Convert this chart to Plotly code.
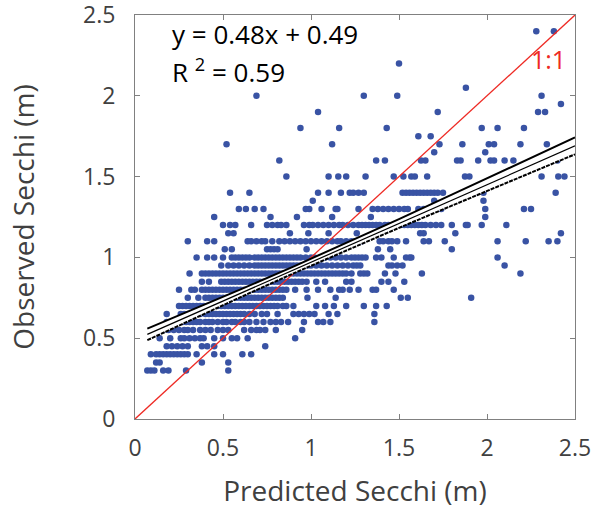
import plotly.graph_objects as go

# Observed Secchi levels (m) and the predicted Secchi values (m) read for each level
obs_levels = [0.30, 0.35, 0.40, 0.45, 0.50, 0.55, 0.60, 0.65, 0.70, 0.75, 0.80, 0.85,
              0.90, 0.95, 1.00, 1.05, 1.10, 1.15, 1.20, 1.25, 1.30, 1.35, 1.40, 1.50,
              1.60, 1.65, 1.70, 1.75, 1.80, 1.90, 1.95, 2.00, 2.05, 2.20, 2.40]

r030 = [0.07, 0.09, 0.11, 0.16, 0.19, 0.29, 0.53]
r035 = [0.12, 0.14, 0.38, 0.53]
r040 = [0.09, 0.12, 0.14, 0.16, 0.18, 0.20, 0.22, 0.24, 0.26, 0.28, 0.30, 0.35, 0.45, 0.50, 0.61, 0.66]
r045 = [0.18, 0.21, 0.24, 0.27, 0.30, 0.38, 0.41, 0.45, 0.74]
r050 = [0.14, 0.20, 0.26, 0.28, 0.31, 0.34, 0.37, 0.39, 0.45, 0.50, 0.55, 0.58, 0.64, 0.91]
r055 = [0.13, 0.16, 0.19, 0.22, 0.25, 0.28, 0.30, 0.33, 0.37, 0.40, 0.43, 0.47, 0.50, 0.53,
        0.62, 0.66, 0.69, 0.71, 0.74, 0.80, 0.95]
r060 = [0.18, 0.21, 0.23, 0.25, 0.27, 0.29, 0.31, 0.33, 0.35, 0.37, 0.40, 0.42, 0.44, 0.47,
        0.50, 0.52, 0.55, 0.57, 0.60, 0.62, 0.65, 0.69, 0.73, 0.77, 0.80, 0.83, 0.87, 0.96,
        1.04, 1.07, 1.11, 1.36]
r065 = [0.18, 0.26, 0.28, 0.30, 0.32, 0.34, 0.37, 0.40, 0.42, 0.44, 0.46, 0.48, 0.50, 0.52,
        0.54, 0.56, 0.58, 0.60, 0.62, 0.65, 0.68, 0.72, 0.75, 0.81, 0.90, 0.93, 0.96, 0.99,
        1.02, 1.10, 1.15, 1.36]
r070 = [0.25, 0.27, 0.29, 0.31, 0.33, 0.35, 0.37, 0.39, 0.41, 0.43, 0.45, 0.47, 0.49, 0.51,
        0.53, 0.55, 0.57, 0.59, 0.61, 0.63, 0.65, 0.67, 0.69, 0.71, 0.73, 0.75, 0.77, 0.79,
        0.81, 0.84, 0.86, 0.90, 1.03, 1.08, 1.13, 1.20, 1.30, 1.37, 1.43]
r075 = [0.30, 0.36, 0.40, 0.42, 0.44, 0.46, 0.48, 0.50, 0.52, 0.54, 0.56, 0.58, 0.60, 0.62,
        0.64, 0.66, 0.68, 0.70, 0.72, 0.74, 0.76, 0.78, 0.80, 0.82, 0.84, 0.98, 1.14, 1.51,
        1.55, 1.91]
r080 = [0.25, 0.32, 0.34, 0.38, 0.40, 0.42, 0.44, 0.46, 0.48, 0.50, 0.52, 0.54, 0.56, 0.58,
        0.60, 0.62, 0.64, 0.66, 0.68, 0.70, 0.72, 0.74, 0.76, 0.78, 0.80, 0.82, 0.84, 0.86,
        0.91, 0.975, 1.04, 1.11, 1.16, 1.18, 1.22, 1.27, 1.35, 1.37, 1.47]
r085 = [0.38, 0.42, 0.49, 0.51, 0.53, 0.55, 0.57, 0.59, 0.61, 0.63, 0.65, 0.67, 0.69, 0.71,
        0.73, 0.75, 0.77, 0.79, 0.81, 0.83, 0.85, 0.87, 0.89, 0.91, 0.93, 0.95, 0.975, 1.03,
        1.08, 1.20, 1.23, 1.40, 1.44, 1.53]
r090 = [0.31, 0.38, 0.40, 0.42, 0.44, 0.46, 0.48, 0.50, 0.52, 0.54, 0.56, 0.58, 0.60, 0.62,
        0.64, 0.66, 0.68, 0.70, 0.72, 0.74, 0.76, 0.78, 0.80, 0.82, 0.84, 0.86, 0.88, 0.90,
        0.92, 0.94, 0.96, 0.98, 1.00, 1.02, 1.04, 1.06, 1.08, 1.10, 1.12, 1.14, 1.16, 1.18,
        1.20, 1.23, 1.28, 1.30, 1.32, 1.42, 1.48, 1.63, 2.19]
r095 = [0.49, 0.53, 0.56, 0.59, 0.62, 0.65, 0.68, 0.70, 0.72, 0.74, 0.76, 0.78, 0.80, 0.82,
        0.84, 0.86, 0.88, 0.90, 0.92, 0.94, 0.96, 0.98, 1.00, 1.03, 1.06, 1.09, 1.12, 1.15,
        1.18, 1.21, 1.24, 1.26, 1.28, 1.44, 1.46, 1.49, 1.52, 2.10]
r100 = [0.35, 0.41, 0.45, 0.50, 0.55, 0.57, 0.59, 0.61, 0.63, 0.65, 0.68, 0.70, 0.72, 0.74,
        0.76, 0.78, 0.80, 0.82, 0.84, 0.86, 0.88, 0.90, 0.92, 0.94, 0.97, 1.00, 1.02, 1.05,
        1.08, 1.11, 1.14, 1.17, 1.20, 1.23, 1.25, 1.27, 1.29, 1.31, 1.37, 1.40, 1.47, 1.54,
        1.56, 1.57, 2.06]
r105 = [0.51, 0.55, 0.75, 0.77, 0.79, 0.81, 0.975, 1.38, 1.45, 1.80]
r110 = [0.30, 0.41, 0.45, 0.64, 0.66, 0.69, 0.72, 0.74, 0.78, 0.82, 0.85, 0.88, 0.91, 0.94,
        0.97, 1.00, 1.03, 1.06, 1.09, 1.12, 1.15, 1.17, 1.20, 1.23, 1.25, 1.27, 1.29, 1.39,
        1.41, 1.44, 1.46, 1.49, 1.54, 1.64, 1.67, 1.76, 2.06, 2.22, 2.35, 2.40]
r115 = [0.53, 0.56, 0.88, 0.985, 1.10, 1.26, 1.62, 1.64, 1.82, 2.42]
r120 = [0.50, 0.54, 0.57, 0.66, 0.75, 0.78, 0.81, 0.83, 0.86, 0.96, 0.99, 1.01, 1.04, 1.07,
        1.10, 1.13, 1.16, 1.18, 1.21, 1.24, 1.27, 1.29, 1.31, 1.33, 1.35, 1.37, 1.39, 1.42,
        1.44, 1.51, 1.53, 1.55, 1.57, 1.59, 1.61, 1.63, 1.65, 1.68, 1.71, 1.74, 1.80, 1.88,
        1.89, 1.97, 2.11]
r125 = [0.45, 0.77, 0.92, 1.12, 1.34, 1.99]
r130 = [0.59, 0.63, 0.68, 0.73, 0.97, 0.99, 1.06, 1.14, 1.15, 1.27, 1.35, 1.38, 1.41, 1.44,
        1.47, 1.50, 1.53, 1.55, 1.61, 1.64, 1.67, 1.70, 1.74, 1.99, 2.21, 2.25]
r135 = [1.01, 1.70, 1.98]
r140 = [0.54, 0.65, 1.04, 1.10, 1.17, 1.22, 1.24, 1.27, 1.30, 1.52, 1.54, 1.56, 1.58, 1.60,
        1.62, 1.64, 1.66, 1.68, 1.70, 1.72, 1.75, 1.89, 1.91, 1.93, 1.98, 2.39]
r150 = [0.86, 1.10, 1.155, 1.20, 1.31, 1.47, 1.525, 1.57, 1.59, 1.66, 1.875, 1.90, 2.31, 2.405, 2.44]
r160 = [0.82, 1.37, 1.42, 1.625, 1.65, 1.83, 1.85, 1.95, 2.02, 2.04, 2.10, 2.15, 2.40]
r165 = [1.70, 1.99]
r170 = [0.52, 1.12, 1.73, 1.86, 2.01, 2.04, 2.19, 2.34]
r175 = [1.61, 1.68]
r180 = [0.94, 1.16, 1.43, 1.97, 2.06, 2.21]
r190 = [1.04, 1.72, 2.29, 2.33]
r195 = [2.42]
r200 = [0.69, 1.30, 1.49, 2.31]
r205 = [1.88]
r220 = [1.50]
r240 = [2.28, 2.38]

pred_rows = [r030, r035, r040, r045, r050, r055, r060, r065, r070, r075, r080, r085,
             r090, r095, r100, r105, r110, r115, r120, r125, r130, r135, r140, r150,
             r160, r165, r170, r175, r180, r190, r195, r200, r205, r220, r240]

tick_vals = [0, 0.5, 1, 1.5, 2, 2.5]
tick_text = ["0", "0.5", "1", "1.5", "2", "2.5"]

# Regression fit (from the printed equation) and its confidence band half-widths (read)
fit_slope = 0.48
fit_intercept = 0.49
band_x = [0.07, 0.3, 0.6, 0.9, 1.2, 1.5, 1.8, 2.1, 2.5]
band_half = [0.036, 0.030, 0.024, 0.021, 0.022, 0.027, 0.034, 0.042, 0.052]

one_to_one = [0, 2.5]

predicted = []
observed = []
for lvl, row in zip(obs_levels, pred_rows):
    predicted.extend(row)
    observed.extend([lvl] * len(row))

fit_y = [fit_slope * x + fit_intercept for x in band_x]
upper = [f + h for f, h in zip(fit_y, band_half)]
lower = [f - h for f, h in zip(fit_y, band_half)]

fig = go.Figure()
fig.add_trace(go.Scatter(x=predicted, y=observed, mode="markers",
                         marker=dict(color="#3953a4", size=6.5, line=dict(width=0)),
                         showlegend=False, hoverinfo="x+y"))
fig.add_trace(go.Scatter(x=one_to_one, y=one_to_one, mode="lines",
                         line=dict(color="#ee2a24", width=1.3), showlegend=False))
# white confidence band
fig.add_trace(go.Scatter(x=band_x, y=upper, mode="lines", line=dict(color="white", width=0),
                         showlegend=False, hoverinfo="skip"))
fig.add_trace(go.Scatter(x=band_x, y=lower, mode="lines", line=dict(color="white", width=0),
                         fill="tonexty", fillcolor="white", showlegend=False, hoverinfo="skip"))
fig.add_trace(go.Scatter(x=band_x, y=upper, mode="lines", line=dict(color="black", width=2),
                         showlegend=False))
fig.add_trace(go.Scatter(x=band_x, y=fit_y, mode="lines", line=dict(color="black", width=1.2),
                         showlegend=False))
fig.add_trace(go.Scatter(x=band_x, y=lower, mode="lines",
                         line=dict(color="black", width=2, dash="4px,1px"), showlegend=False))

axis_common = dict(range=[0, 2.5], tickmode="array", tickvals=tick_vals, ticktext=tick_text,
                   ticks="inside", ticklen=5, automargin=False, ticklabeloverflow="allow",
                   tickcolor="#808080", showline=True, linecolor="#808080", linewidth=1,
                   mirror="ticks", showgrid=False, zeroline=False,
                   tickfont=dict(family="Open Sans", size=23, color="#404040"),
                   title_font=dict(family="Open Sans", size=28, color="#404040"))

fig.update_xaxes(**axis_common, title_text="Predicted Secchi (m)", title_standoff=19,
                 ticklabelstandoff=8)
fig.update_yaxes(**axis_common, title_text="Observed Secchi (m)", title_standoff=40,
                 ticklabelstandoff=14)

fig.add_annotation(x=0.2, y=2.38, xref="x", yref="y", text="y = 0.48x + 0.49",
                   showarrow=False, xanchor="left", yanchor="middle",
                   font=dict(family="Open Sans", size=26, color="black"))
fig.add_annotation(x=0.2, y=2.155, xref="x", yref="y", text="R <sup>2</sup> = 0.59",
                   showarrow=False, xanchor="left", yanchor="middle",
                   font=dict(family="Open Sans", size=26, color="black"))
fig.add_annotation(x=2.35, y=2.23, xref="x", yref="y", text="1:1",
                   showarrow=False, xanchor="center", yanchor="middle",
                   font=dict(family="Open Sans", size=25, color="#ee2a24"))

fig.update_layout(width=593, height=510, margin=dict(l=135, r=18, t=15, b=91),
                  paper_bgcolor="white", plot_bgcolor="white")

fig.write_html("out.html", config={"displayModeBar": False},
               post_script="document.body.style.margin='0';document.body.style.padding='0';")
